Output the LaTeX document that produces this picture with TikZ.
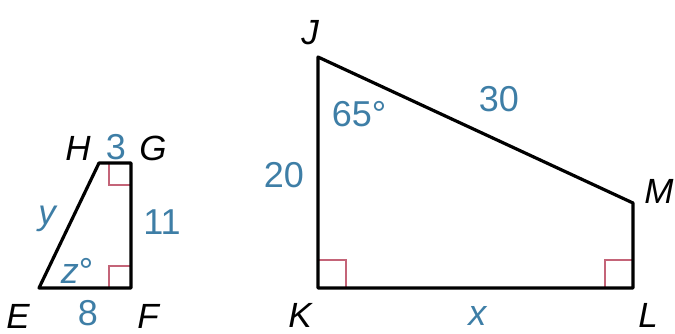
\documentclass[tikz,border=0pt]{standalone}
\usepackage{fontspec}
\setmainfont{Liberation Sans}
\definecolor{lblue}{RGB}{62,126,166}
\definecolor{rmred}{RGB}{196,100,120}

\begin{document}
\begin{tikzpicture}[
  x=1pt, y=-1pt,
  font=\fontsize{36}{40}\selectfont,
  inner sep=0.5pt,
  edge/.style={line width=3.2pt, line join=round},
  rmark/.style={draw=rmred, line width=1.6pt},
  vlab/.style={font=\fontsize{35}{40}\selectfont\itshape},
  lbl/.style={text=lblue},
  ]
  \useasboundingbox (0,0) rectangle (675,334);

  % --- small quadrilateral EFGH ---
  \coordinate (E) at (39,288);
  \coordinate (F) at (131,288);
  \coordinate (G) at (131,163);
  \coordinate (H) at (99,163);
  \draw[rmark] (G) ++(-22,0) -- ++(0,22) -- ++(22,0);
  \draw[rmark] (F) ++(-22,0) -- ++(0,-22) -- ++(22,0);
  \draw[edge] (E) -- (F) -- (G) -- (H) -- cycle;

  \node[vlab] (lH) at (78,148) {H};
  \node[vlab] (lG) at (153,148) {G};
  \node[vlab] (lE) at (18,316) {E};
  \node[vlab] (lF) at (148,316) {F};
  \node[lbl] (sHG) at (116,147) {3};
  \node[lbl] (sGF) at (162,222) {11};
  \node[lbl] (sEF) at (88,313) {8};
  \node[lbl, font=\fontsize{35}{40}\selectfont\itshape] (sEH) at (47,219) {y};
  \node[lbl] (aE) at (77,271) {\textit{z}°};

  % --- large quadrilateral JKLM ---
  \coordinate (J) at (318,57);
  \coordinate (K) at (318,288);
  \coordinate (L) at (633,288);
  \coordinate (M) at (633,203);
  \draw[rmark] (K) ++(0,-28) -- ++(28,0) -- ++(0,28);
  \draw[rmark] (L) ++(0,-28) -- ++(-28,0) -- ++(0,28);
  \draw[edge] (J) -- (K) -- (L) -- (M) -- cycle;

  \node[vlab] (lJ) at (310,33) {J};
  \node[vlab] (lK) at (300,315) {K};
  \node[vlab] (lL) at (648,315) {L};
  \node[vlab] (lM) at (659,191) {M};
  \node[lbl] (sJK) at (284,175) {20};
  \node[lbl] (sJM) at (499,99) {30};
  \node[lbl] (sKL) at (478,316) {\textit{x}};
  \node[lbl] (aJ) at (359,114) {65°};

\end{tikzpicture}
\end{document}
